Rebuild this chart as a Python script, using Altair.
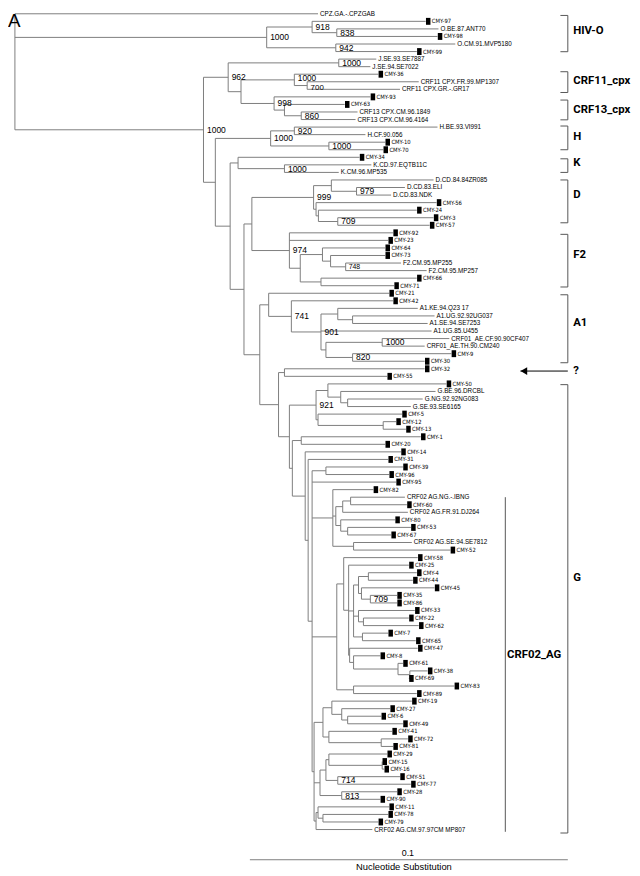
import altair as alt
import pandas as pd

# ---------------------------------------------------------------------------
# Tree data.
# Depths are distances from the root in "bar units": the 0.1 substitution
# scale bar is 322 bar units long.
# Internal nodes: (name, parent, depth, bootstrap)
# ---------------------------------------------------------------------------
nodes_top = [
    ("root", "", 0, ""), ("O", "root", 255, "1000"), ("O918", "O", 301, "918"),
    ("O838", "O918", 326, "838"), ("O942", "O", 325, "942"),
    ("M", "root", 191, "1000"), ("n962", "M", 216, "962"), ("J", "n962", 328, "1000"),
    ("n244", "n962", 229, ""), ("C11", "n244", 283, "1000"), ("C11b", "C11", 296, "700"),
    ("n998", "n244", 262.5, "998"), ("C13a", "n998", 273, ""), ("C13", "C13a", 290, "860"),
]
nodes_hkdf = [
    ("n218", "M", 203, ""), ("H", "n218", 259, "1000"), ("H920", "H", 283, "920"),
    ("H10", "H", 318, "1000"), ("n233", "n218", 218, ""), ("K", "n233", 226, ""),
    ("K2", "K", 273, "1000"), ("n247", "n233", 232, ""), ("n255", "n247", 240, ""),
    ("D", "n255", 302.5, "999"), ("D1", "D", 320.5, ""), ("D979", "D1", 346, "979"),
    ("D2", "D", 305, ""), ("D3", "D2", 307.4, ""), ("D709", "D3", 327, "709"),
    ("F2", "n255", 278, "974"), ("F2a", "F2", 289, ""), ("F2b", "F2a", 311.5, ""),
    ("F2c", "F2b", 319.7, ""), ("F748", "F2c", 335, "748"), ("F2d", "F2a", 310, ""),
]
nodes_a = [
    ("n263", "n247", 248, ""), ("n272", "n263", 257, ""), ("A741", "n272", 280, "741"),
    ("A901", "A741", 310, "901"), ("A1a", "A901", 327, ""), ("A1b", "A1a", 342, ""),
    ("A1c", "A901", 315, ""), ("CRF01", "A1c", 372, "1000"), ("A820", "A1c", 342, "820"),
    ("n282", "n263", 267, ""), ("Q", "n282", 273, ""),
]
nodes_g = [
    ("G", "n282", 278, ""), ("G921", "G", 305, "921"), ("Ga", "G921", 317, ""),
    ("Gb", "Ga", 330, ""), ("Gc", "Gb", 337, ""), ("Gd", "G921", 307, ""),
    ("Ge", "Gd", 373, ""), ("B1", "G", 281, ""), ("B1a", "B1", 290, ""),
    ("B2", "B1", 294, ""), ("B3", "B2", 297, ""), ("V", "B3", 301, ""),
    ("Vn", "V", 315, ""),
]
nodes_ag = [
    ("P7", "V", 322, ""), ("P5", "P7", 325, ""), ("P2", "P5", 332, ""), ("P1", "P2", 340, ""),
    ("P4", "P5", 330, ""), ("P3", "P4", 337, ""), ("P6", "P7", 343, ""),
    ("Q11", "V", 326, ""), ("Q10", "Q11", 333, ""), ("Q9", "Q10", 338, ""),
    ("Q8", "Q9", 343, ""), ("Q4", "Q8", 348, ""), ("Q1", "Q4", 358, ""),
    ("Q3", "Q4", 351, ""), ("Q2", "Q3", 360, "709"), ("Q6", "Q8", 348, ""),
    ("Q5", "Q6", 353, ""), ("Q7", "Q8", 352, ""), ("R4", "Q9", 339, ""),
    ("R3", "R4", 343, ""), ("R2", "R3", 388, ""), ("R1", "R2", 400, ""),
    ("R5", "Q11", 343, ""), ("V2", "V", 303, ""), ("S6", "V2", 312, ""),
    ("S3", "S6", 321, ""), ("S2", "S3", 331, ""), ("S1", "S2", 337, ""),
    ("S5", "S6", 318, ""), ("S4", "S5", 371, ""), ("T6", "V2", 309, ""),
    ("T4", "T6", 315, ""), ("T2", "T4", 318, ""), ("T1", "T2", 372, ""),
    ("T3", "T4", 327, "714"), ("T5", "T6", 331, "813"), ("U3", "V2", 305, ""),
    ("U2", "U3", 307, ""), ("U1", "U2", 312, ""),
]

# Leaves, top to bottom: (label, parent, depth)
leaves_top = [
    ("CPZ.GA.-.CPZGAB", "root", 307), ("CMY-97", "O918", 416), ("O.BE.87.ANT70", "O838", 429),
    ("CMY-98", "O838", 428), ("O.CM.91.MVP5180", "O942", 446), ("CMY-99", "O942", 407),
    ("J.SE.93.SE7887", "J", 366), ("J.SE.94.SE7022", "J", 360), ("CMY-36", "C11", 368),
    ("CRF11 CPX.FR.99.MP1307", "C11b", 409), ("CRF11 CPX.GR.-.GR17", "C11b", 390),
    ("CMY-93", "n998", 360), ("CMY-63", "C13a", 334), ("CRF13 CPX.CM.96.1849", "C13", 347),
    ("CRF13 CPX.CM.96.4164", "C13", 345),
]
leaves_hkdf = [
    ("H.BE.93.VI991", "H920", 428), ("H.CF.90.056", "H920", 355), ("CMY-10", "H10", 375),
    ("CMY-70", "H10", 373), ("CMY-34", "K", 349), ("K.CD.97.EQTB11C", "K2", 361),
    ("K.CM.96.MP535", "K2", 328), ("D.CD.84.84ZR085", "D1", 424), ("D.CD.83.ELI", "D979", 395),
    ("D.CD.83.NDK", "D979", 381), ("CMY-56", "D2", 427), ("CMY-24", "D3", 407),
    ("CMY-3", "D709", 424), ("CMY-57", "D709", 420), ("CMY-92", "F2", 383),
    ("CMY-23", "F2", 378), ("CMY-64", "F2b", 375), ("CMY-73", "F2c", 375),
    ("F2.CM.95.MP255", "F748", 391), ("F2.CM.95.MP257", "F748", 417), ("CMY-66", "F2d", 407),
    ("CMY-71", "F2d", 384),
]
leaves_a = [
    ("CMY-21", "n272", 379), ("CMY-42", "A741", 383), ("A1.KE.94.Q23 17", "A1a", 408),
    ("A1.UG.92.92UG037", "A1b", 425), ("A1.SE.94.SE7253", "A1b", 418),
    ("A1.UG.85.U455", "A901", 422), ("CRF01_AE.CF.90.90CF407", "CRF01", 440),
    ("CRF01_AE.TH.90.CM240", "CRF01", 415), ("CMY-9", "A820", 442), ("CMY-30", "A820", 415),
    ("CMY-32", "Q", 415), ("CMY-55", "Q", 377),
]
leaves_g = [
    ("CMY-50", "Ga", 437), ("G.BE.96.DRCBL", "Gb", 426), ("G.NG.92.92NG083", "Gc", 413),
    ("G.SE.93.SE6165", "Gc", 401), ("CMY-5", "Gd", 392), ("CMY-12", "Ge", 386),
    ("CMY-13", "Ge", 396), ("CMY-1", "B1a", 411), ("CMY-20", "B1a", 375),
    ("CMY-14", "B2", 391), ("CMY-31", "B3", 378), ("CMY-39", "Vn", 393),
    ("CMY-96", "Vn", 379), ("CMY-95", "V", 386), ("CMY-82", "P7", 363),
]
leaves_ag = [
    ("CRF02 AG.NG.-.IBNG", "P1", 395), ("CMY-60", "P1", 397), ("CRF02 AG.FR.91.DJ264", "P2", 398),
    ("CMY-80", "P4", 385), ("CMY-53", "P3", 401), ("CMY-67", "P3", 381),
    ("CRF02 AG.SE.94.SE7812", "P6", 402), ("CMY-52", "P6", 441), ("CMY-58", "Q10", 408),
    ("CMY-25", "Q9", 399), ("CMY-4", "Q1", 407), ("CMY-44", "Q1", 403), ("CMY-45", "Q3", 425),
    ("CMY-35", "Q2", 387), ("CMY-86", "Q2", 387), ("CMY-33", "Q6", 405), ("CMY-22", "Q5", 399),
    ("CMY-62", "Q5", 409), ("CMY-7", "Q7", 378), ("CMY-65", "Q7", 406), ("CMY-47", "R4", 408),
    ("CMY-8", "R3", 370), ("CMY-61", "R2", 393), ("CMY-38", "R1", 418), ("CMY-69", "R1", 399),
    ("CMY-83", "R5", 445), ("CMY-89", "R5", 407), ("CMY-19", "S3", 402), ("CMY-27", "S2", 380),
    ("CMY-6", "S1", 371), ("CMY-49", "S1", 393), ("CMY-41", "S5", 382), ("CMY-72", "S4", 398),
    ("CMY-81", "S4", 383), ("CMY-29", "T2", 377), ("CMY-15", "T1", 372), ("CMY-16", "T1", 374),
    ("CMY-51", "T3", 390), ("CMY-77", "T3", 401), ("CMY-28", "T5", 387), ("CMY-90", "T5", 370),
    ("CMY-11", "U2", 379), ("CMY-78", "U1", 378), ("CMY-79", "U1", 368),
    ("CRF02 AG.CM.97.97CM MP807", "U3", 362),
]

# Subtype brackets: label, top row, bottom row, label row (rows = leaf positions)
bracket_labels = ["HIV-O", "CRF11_cpx", "CRF13_cpx", "H", "K", "D", "F2", "A1", "G"]
bracket_top = [0.22, 7.67, 11.42, 14.86, 19.2, 22.0, 29.2, 37.2, 49.1]
bracket_bottom = [5.02, 10.42, 14.04, 18.0, 21.0, 27.67, 36.17, 46.2, 108.46]
bracket_label_row = [2.3, 8.85, 12.77, 16.3, 19.7, 24.0, 32.0, 41.0, 74.7]
crf02_span = [64.0, 108.3]
crf02_label_row = 84.9
unknown_row = 47.3

BAR_UNITS = 322.0          # length of the 0.1 scale bar in bar units
K = 0.1 / BAR_UNITS        # substitutions per bar unit

# ---------------------------------------------------------------------------
nodes = nodes_top + nodes_hkdf + nodes_a + nodes_g + nodes_ag
leaves = leaves_top + leaves_hkdf + leaves_a + leaves_g + leaves_ag

depth, parent, children = {}, {}, {}
for name, par, d, _ in nodes:
    depth[name] = d
    parent[name] = par
    children.setdefault(par, []).append(name)
row = {}
for i, (name, par, d) in enumerate(leaves):
    depth[name] = d
    parent[name] = par
    row[name] = i
    children.setdefault(par, []).append(name)


def get_row(n):
    if n not in row:
        rs = [get_row(c) for c in children[n]]
        row[n] = (min(rs) + max(rs)) / 2
    return row[n]


get_row("root")

segs = []
for name, par, d, _ in nodes:
    rs = [row[c] for c in children[name]]
    segs.append(dict(x=d * K, x2=d * K, y=min(rs), y2=max(rs)))
for name in list(parent):
    par = parent[name]
    if par:
        segs.append(dict(x=depth[par] * K, x2=depth[name] * K, y=row[name], y2=row[name]))
seg_df = pd.DataFrame(segs)

leaf_df = pd.DataFrame(
    [dict(label=n, x=d * K, y=row[n], cmy=n.startswith("CMY")) for n, p, d in leaves]
)
cmy_df = leaf_df[leaf_df.cmy]
ref_df = leaf_df[~leaf_df.cmy]

boot_df = pd.DataFrame(
    [dict(label=s, x=d * K, y=row[n], node=n) for n, p, d, s in nodes if s]
)
small_nodes = ["F748"]      # printed in a smaller size in the figure
low_nodes = ["C11b"]        # printed just below its node
high_nodes = ["C11"]        # printed just above its node

BR_X = 560      # bracket spine (bar units)
BR_TICK = 7.5
br_segs = []
for t, b in zip(bracket_top, bracket_bottom):
    br_segs.append(dict(x=BR_X * K, x2=BR_X * K, y=t, y2=b))
    br_segs.append(dict(x=(BR_X - BR_TICK) * K, x2=BR_X * K, y=t, y2=t))
    br_segs.append(dict(x=(BR_X - BR_TICK) * K, x2=BR_X * K, y=b, y2=b))
br_segs.append(dict(x=496.7 * K, x2=496.7 * K, y=crf02_span[0], y2=crf02_span[1]))
br_df = pd.DataFrame(br_segs)
brl_df = pd.DataFrame(
    dict(label=bracket_labels + ["?"], x=[(BR_X + 5.5) * K] * 10,
         y=bracket_label_row + [unknown_row])
)

n_leaves = len(leaves)
bar_start = 238 * K
bar_df = pd.DataFrame([dict(x=bar_start, x2=bar_start + 0.1, y=n_leaves + 3.0, y2=n_leaves + 3.0)])
arrow_df = pd.DataFrame([dict(x=512 * K, x2=BR_X * K, y=unknown_row, y2=unknown_row)])
head_df = pd.DataFrame([dict(x=515.5 * K, y=unknown_row)])
text_df = pd.DataFrame([
    dict(label="0.1", x=bar_start + 0.05 - 1 * K, y=n_leaves + 2.1, size=9),
    dict(label="Nucleotide Substitution", x=bar_start + 0.05 - 5 * K, y=n_leaves + 3.95, size=9.5),
])

W, H = 632, 868
ROW_PX = 7.65
xs = alt.Scale(domain=[-7 * K, (W - 7) * K], nice=False, zero=False)
ys = alt.Scale(domain=[-0.3 / ROW_PX, (H - 0.3) / ROW_PX], reverse=True, nice=False, zero=False)
X = lambda f="x": alt.X(f"{f}:Q", scale=xs, axis=None)
Y = lambda f="y": alt.Y(f"{f}:Q", scale=ys, axis=None)

LINE = "#7d7d7d"
COND = "DejaVu Sans Condensed, sans-serif"
SANS = "Liberation Sans, Arial, Helvetica, sans-serif"
HEAD = "Roboto, Liberation Sans, sans-serif"

tree = alt.Chart(seg_df).mark_rule(color=LINE, strokeWidth=1).encode(
    x=X(), x2="x2:Q", y=Y(), y2="y2:Q")
squares = alt.Chart(cmy_df).mark_point(
    shape="M-0.65,-1H0.65V1H-0.65Z", filled=True, color="black", opacity=1,
    size=49, xOffset=2.6, strokeWidth=0).encode(x=X(), y=Y())
cmy_text = alt.Chart(cmy_df).mark_text(
    align="left", baseline="middle", dx=6.3, fontSize=5.9, font=COND, color="black").encode(
    x=X(), y=Y(), text="label:N")
ref_text = alt.Chart(ref_df).mark_text(
    align="left", baseline="middle", dx=2, fontSize=6.4, font=SANS, color="black").encode(
    x=X(), y=Y(), text="label:N")
special = small_nodes + low_nodes + high_nodes
boot_big = alt.Chart(boot_df[~boot_df.node.isin(special)]).mark_text(
    align="left", baseline="middle", dx=3.5, fontSize=8.6, font=SANS, color="black").encode(
    x=X(), y=Y(), text="label:N")
boot_small = alt.Chart(boot_df[boot_df.node.isin(small_nodes)]).mark_text(
    align="left", baseline="middle", dx=3, fontSize=7, font=SANS, color="black").encode(
    x=X(), y=Y(), text="label:N")
boot_low = alt.Chart(boot_df[boot_df.node.isin(low_nodes)]).mark_text(
    align="left", baseline="middle", dx=3.5, dy=2.6, fontSize=8, font=SANS, color="black").encode(
    x=X(), y=Y(), text="label:N")
boot_high = alt.Chart(boot_df[boot_df.node.isin(high_nodes)]).mark_text(
    align="left", baseline="middle", dx=3.5, dy=-1.8, fontSize=8.4, font=SANS, color="black").encode(
    x=X(), y=Y(), text="label:N")
brackets = alt.Chart(br_df).mark_rule(color="#555555", strokeWidth=1).encode(
    x=X(), x2="x2:Q", y=Y(), y2="y2:Q")
br_text = alt.Chart(brl_df).mark_text(
    align="left", baseline="middle", fontSize=11.5, fontWeight="bold", font=HEAD,
    color="black").encode(x=X(), y=Y(), text="label:N")
crf02_text = alt.Chart(pd.DataFrame([dict(label="CRF02_AG", x=498.5 * K, y=crf02_label_row)])).mark_text(
    align="left", baseline="middle", fontSize=11.5, fontWeight="bold", font=HEAD,
    color="black").encode(x=X(), y=Y(), text="label:N")
arrow = alt.Chart(arrow_df).mark_rule(color="black", strokeWidth=1).encode(
    x=X(), x2="x2:Q", y=Y(), y2="y2:Q")
head = alt.Chart(head_df).mark_point(
    shape="triangle-left", filled=True, color="black", opacity=1, size=60).encode(x=X(), y=Y())
bar = alt.Chart(bar_df).mark_rule(color=LINE, strokeWidth=1).encode(
    x=X(), x2="x2:Q", y=Y(), y2="y2:Q")
bar_text = alt.Chart(text_df).mark_text(
    align="center", baseline="middle", font=SANS, color="black").encode(
    x=X(), y=Y(), text="label:N", size=alt.Size("size:Q", scale=None, legend=None))
panel = alt.Chart(pd.DataFrame([dict(label="A", x=-7 * K, y=-0.3 / ROW_PX)])).mark_text(
    align="left", baseline="top", fontSize=19, font=SANS, color="black", dy=-1).encode(
    x=X(), y=Y(), text="label:N")

chart = alt.layer(
    tree, brackets, arrow, bar, squares, cmy_text, ref_text,
    boot_big, boot_small, boot_low, boot_high,
    br_text, crf02_text, head, bar_text, panel
).properties(
    width=W, height=H, autosize=alt.AutoSizeParams(type="none"), padding=0,
    background="white"
).configure_view(stroke=None)

chart.save("out.html", embed_options={"renderer": "svg", "actions": False})
